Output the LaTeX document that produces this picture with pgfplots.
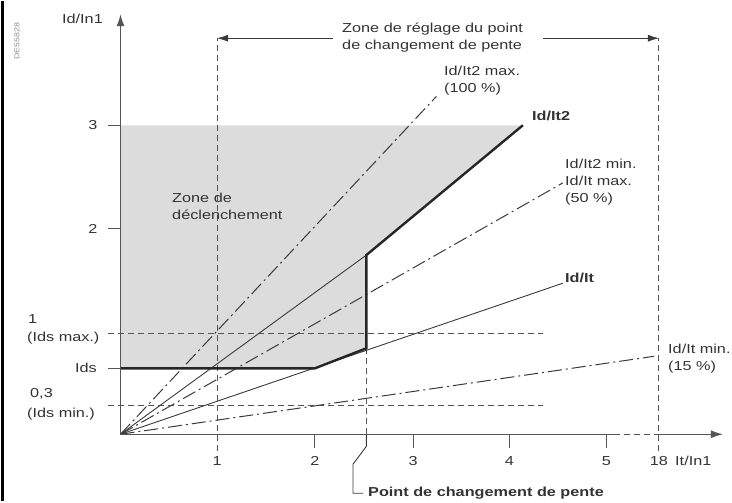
\documentclass[border=0pt]{standalone}
\usepackage{pgfplots}
\pgfplotsset{compat=1.18}
\usepackage{fontspec}
\setmainfont{Liberation Sans}[FakeStretch=1.25]
\usetikzlibrary{arrows.meta}
\definecolor{txt}{HTML}{333333}
\definecolor{zone}{HTML}{DCDCDC}
\definecolor{ln}{HTML}{3A3A3A}
\definecolor{ax}{HTML}{555555}
\begin{document}
\begin{tikzpicture}[font=\fontsize{13}{17}\selectfont,
  dsh/.style={dash pattern=on 6pt off 4pt},
  dd/.style={dash pattern=on 14pt off 4pt on 2pt off 4pt},
  lbl/.style={inner sep=0pt, text=txt, align=left}]
\begin{axis}[scale only axis, width=732pt, height=500pt,
  xmin=-1.2397, xmax=6.2912, ymin=-0.6505, ymax=4.2039,
  hide axis, clip=false, no markers]
% invisible bounding box
\path (rel axis cs:0,0) rectangle (rel axis cs:1,1);
% tripping zone
\addplot[draw=none, fill=zone] coordinates {(0,0.64) (2,0.64) (2.53,0.835) (2.53,1.74) (4.14,3) (0,3)} -- cycle;
% reference dashed lines
\addplot[ax, line width=1pt, dsh] coordinates {(-0.129,0.98) (4.35,0.98)};
\addplot[ax, line width=1pt, dsh] coordinates {(-0.129,0.28) (4.35,0.28)};
\addplot[ax, line width=1pt, dsh] coordinates {(0.993,-0.165) (0.993,3.845)};
\addplot[ax, line width=1pt, dsh] coordinates {(5.54,-0.165) (5.54,3.845)};
\addplot[ax, line width=1pt, dsh] coordinates {(2.53,0) (2.53,0.835)};
% slopes from origin
\addplot[ln, line width=1pt, dd] coordinates {(0,0) (3.25,3.28)};
\addplot[ln, line width=0.9pt] coordinates {(0,0) (2.53,1.74)};
\addplot[ln, line width=1pt, dd] coordinates {(0,0) (4.55,2.44)};
\addplot[ln, line width=0.9pt] coordinates {(0,0) (4.55,1.466)};
\addplot[ln, line width=1pt, dd] coordinates {(0,0) (5.49,0.757)};
% Id/It2 characteristic
\addplot[black!85, line width=2.4pt, line join=miter] coordinates {(0,0.64) (2,0.64) (2.53,0.835) (2.53,1.74) (4.14,3)};
% axes
\draw[ax, line width=1.2pt, -{Latex[length=12pt,width=8pt]}] (axis cs:0,0) -- (axis cs:0,4.078);
\draw[ax, line width=1.2pt] (axis cs:0,0) -- (axis cs:5.077,0);
\draw[ax, line width=1.2pt, dsh] (axis cs:5.077,0) -- (axis cs:5.54,0);
\draw[ax, line width=1.2pt, -{Latex[length=12pt,width=8pt]}] (axis cs:5.54,0) -- (axis cs:6.198,0);
% ticks
\draw[ax, line width=1pt] (axis cs:2,0) -- (axis cs:2,-0.136);
\draw[ax, line width=1pt] (axis cs:3.01,0) -- (axis cs:3.01,-0.136);
\draw[ax, line width=1pt] (axis cs:4,0) -- (axis cs:4,-0.136);
\draw[ax, line width=1pt] (axis cs:5,0) -- (axis cs:5,-0.136);
\draw[ax, line width=1pt] (axis cs:-0.129,3) -- (axis cs:0,3);
\draw[ax, line width=1pt] (axis cs:-0.129,2) -- (axis cs:0,2);
\draw[ax, line width=1pt] (axis cs:-0.129,0.64) -- (axis cs:0,0.64);
% top range arrows
\draw[ln, line width=0.9pt, -{Latex[length=11pt,width=7pt]}] (axis cs:2.186,3.845) -- (axis cs:0.993,3.845);
\draw[ln, line width=0.9pt, -{Latex[length=11pt,width=7pt]}] (axis cs:4.35,3.845) -- (axis cs:5.54,3.845);
% leader
\draw[ln, line width=0.9pt] (axis cs:2.53,0) -- (axis cs:2.53,-0.1165) -- (axis cs:2.392,-0.291) -- (axis cs:2.392,-0.573) -- (axis cs:2.495,-0.573);
% left frame
\draw[black, line width=2.5pt] (axis cs:-1.214,-0.6505) -- (axis cs:-1.214,4.2039);
% labels
\node[lbl, anchor=east] at (axis cs:-0.180,4.029) {Id/In1};
\node[lbl, anchor=east] at (axis cs:-0.235,3.0) {3};
\node[lbl, anchor=east] at (axis cs:-0.235,1.99) {2};
\node[lbl, anchor=west] at (axis cs:-0.952,1.117) {1};
\node[lbl, anchor=west] at (axis cs:-0.962,0.932) {(Ids max.)};
\node[lbl, anchor=east] at (axis cs:-0.242,0.64) {Ids};
\node[lbl, anchor=west] at (axis cs:-0.931,0.388) {0,3};
\node[lbl, anchor=west] at (axis cs:-0.962,0.194) {(Ids min.)};
\node[lbl] at (axis cs:0.993,-0.262) {1};
\node[lbl] at (axis cs:2,-0.262) {2};
\node[lbl] at (axis cs:3.01,-0.262) {3};
\node[lbl] at (axis cs:4,-0.262) {4};
\node[lbl] at (axis cs:5,-0.262) {5};
\node[lbl] at (axis cs:5.54,-0.262) {18};
\node[lbl, anchor=west] at (axis cs:5.705,-0.262) {It/In1};
\node[lbl, anchor=west] at (axis cs:0.530,2.214) {Zone de\\déclenchement};
\node[lbl, anchor=west] at (axis cs:2.279,3.850) {Zone de réglage du point\\de changement de pente};
\node[lbl, anchor=west] at (axis cs:3.328,3.437) {Id/It2 max.\\(100 \%)};
\node[lbl, anchor=west, font=\fontsize{13}{17}\selectfont\bfseries] at (axis cs:4.233,3.087) {Id/It2};
\node[lbl, anchor=west] at (axis cs:4.573,2.447) {Id/It2 min.\\Id/It max.\\(50 \%)};
\node[lbl, anchor=west, font=\fontsize{13}{17}\selectfont\bfseries] at (axis cs:4.573,1.515) {Id/It};
\node[lbl, anchor=west] at (axis cs:5.633,0.738) {Id/It min.\\(15 \%)};
\node[lbl, anchor=west, font=\fontsize{13}{17}\selectfont\bfseries] at (axis cs:2.546,-0.573) {Point de changement de pente};
\node[lbl, rotate=90, text=black!45, font=\fontsize{7}{8}\selectfont] at (axis cs:-1.065,3.816) {DE55828};
\end{axis}
\end{tikzpicture}
\end{document}
